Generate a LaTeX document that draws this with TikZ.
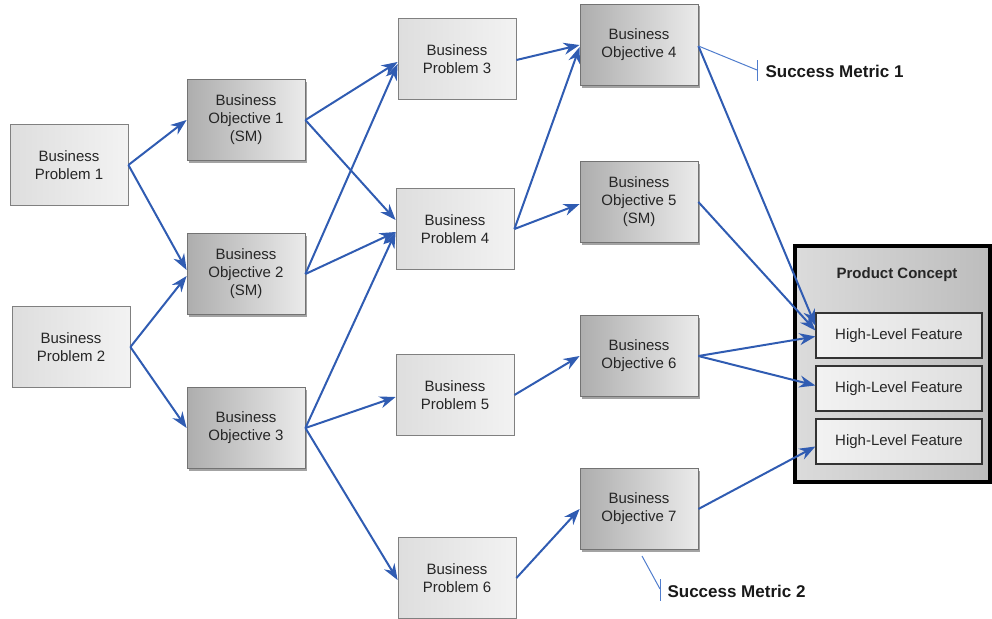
\documentclass[tikz,border=0pt]{standalone}
\usepackage{fontspec}
\setmainfont{Liberation Sans}
\usetikzlibrary{arrows.meta,shadows}
\definecolor{arrowblue}{RGB}{48,92,178}
\definecolor{thinblue}{RGB}{80,125,205}
\begin{document}
\begin{tikzpicture}[x=1pt,y=-1pt,
  every node/.style={font=\fontsize{15}{18}\selectfont, text=black!85, align=center},
  probbox/.style={draw=black!50, line width=0.8pt, left color=black!13, right color=black!5,
    minimum width=118pt, minimum height=81pt, inner sep=0pt},
  objbox/.style={draw=black!55, line width=0.8pt, left color=black!32, right color=black!8,
    minimum width=118pt, minimum height=81pt, inner sep=0pt,
    drop shadow={shadow xshift=2pt, shadow yshift=-2pt, fill=black!45, opacity=0.8}},
  featbox/.style={draw=black!80, line width=1.3pt, left color=black!5, right color=black!13,
    minimum width=166pt, minimum height=45pt, inner sep=0pt},
  arr/.style={draw=arrowblue, line width=2pt, -{Stealth[length=16pt,width=12pt]}},
  thin/.style={draw=thinblue, line width=1pt},
  metric/.style={font=\bfseries\fontsize{17}{20}\selectfont, text=black!90, anchor=west}
]
\useasboundingbox (0,0) rectangle (992,618);

% Product concept
\node[draw=black, line width=4pt, left color=black!14, right color=black!26,
  minimum width=195pt, minimum height=236pt, inner sep=0pt] (pc) at (892.5,364) {};
\node[font=\bfseries\fontsize{15}{18}\selectfont, text=black!85] (pct) at (897,275) {Product Concept};
\node[featbox] (f1) at (899,335.5) {High-Level Feature};
\node[featbox] (f2) at (899,388.5) {High-Level Feature};
\node[featbox] (f3) at (899,441.5) {High-Level Feature};

% Problems
\node[probbox] (bp1) at (69,165) {Business\\Problem 1};
\node[probbox] (bp2) at (71,347) {Business\\Problem 2};
\node[probbox] (p3) at (457,59) {Business\\Problem 3};
\node[probbox] (p4) at (455,229) {Business\\Problem 4};
\node[probbox] (p5) at (455,395) {Business\\Problem 5};
\node[probbox] (p6) at (457,578) {Business\\Problem 6};

% Objectives
\node[objbox] (o1) at (246,120) {Business\\Objective 1\\(SM)};
\node[objbox] (o2) at (246,274) {Business\\Objective 2\\(SM)};
\node[objbox] (o3) at (246,428) {Business\\Objective 3};
\node[objbox] (o4) at (639,45) {Business\\Objective 4};
\node[objbox] (o5) at (639,202) {Business\\Objective 5\\(SM)};
\node[objbox] (o6) at (639,356) {Business\\Objective 6};
\node[objbox] (o7) at (639,509) {Business\\Objective 7};

% Arrows
\draw[arr] (bp1.east) -- (o1.west);
\draw[arr] (bp1.east) -- ([yshift=4pt]o2.west);
\draw[arr] (bp2.east) -- ([yshift=-2pt]o2.west);
\draw[arr] (bp2.east) -- (o3.west);
\draw[arr] (o1.east) -- ([yshift=-3pt]p3.west);
\draw[arr] (o1.east) -- ([yshift=9pt]p4.west);
\draw[arr] (o2.east) -- ([yshift=-5pt]p3.west);
\draw[arr] (o2.east) -- ([yshift=-3pt]p4.west);
\draw[arr] (o3.east) -- ([yshift=-3pt]p4.west);
\draw[arr] (o3.east) -- ([yshift=-2pt]p5.west);
\draw[arr] (o3.east) -- ([yshift=-2pt]p6.west);
\draw[arr] ([yshift=-1pt]p3.east) -- (o4.west);
\draw[arr] (p4.east) -- ([yshift=-2pt]o4.west);
\draw[arr] (p4.east) -- ([yshift=-2pt]o5.west);
\draw[arr] (p5.east) -- (o6.west);
\draw[arr] (p6.east) -- (o7.west);
\draw[arr] ([yshift=-1pt]o4.east) -- ([yshift=10pt]f1.west);
\draw[arr] (o5.east) -- ([yshift=5pt]f1.west);
\draw[arr] (o6.east) -- ([yshift=-1pt]f1.west);
\draw[arr] (o6.east) -- ([yshift=3pt]f2.west);
\draw[arr] (o7.east) -- ([yshift=-5pt]f3.west);

% Success metrics
\coordinate (t1) at (757,70);
\draw[thin] ([yshift=-1pt]o4.east) -- (t1);
\draw[thin] (757,60) -- (757,81);
\node[metric] (sm1) at (762,71) {Success Metric 1};

\coordinate (s2) at (642,556);
\coordinate (t2) at (660,589);
\draw[thin] (s2) -- (t2);
\draw[thin] (660,579) -- (660,601);
\node[metric] (sm2) at (664,591) {Success Metric 2};
\end{tikzpicture}
\end{document}
